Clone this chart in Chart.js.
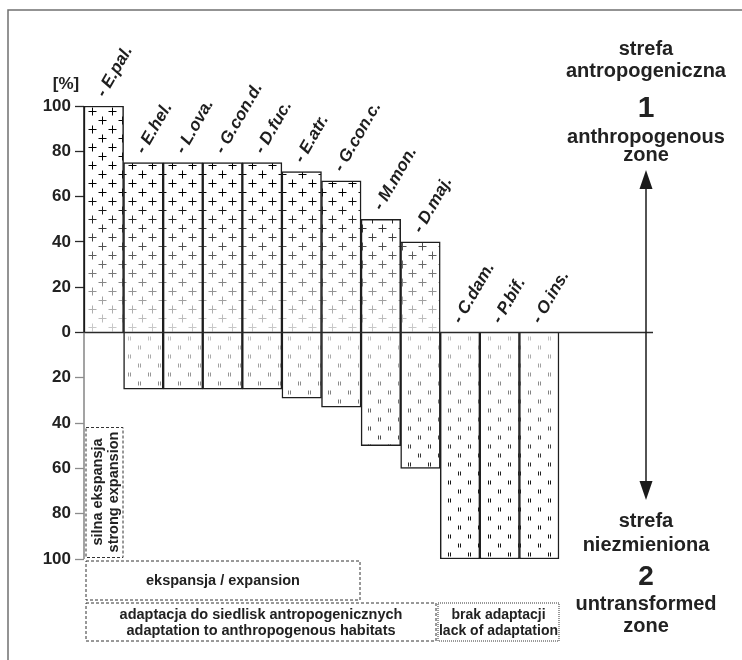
<!DOCTYPE html>
<html><head><meta charset="utf-8">
<script src="https://cdn.jsdelivr.net/npm/chart.js@4.4.1/dist/chart.umd.min.js"></script>
<style>
html,body{margin:0;padding:0;background:#fff;}
#wrap{position:relative;width:742px;height:660px;overflow:hidden;background:#fff;}
#c{position:absolute;left:0;top:0;}
#ov{position:absolute;left:0;top:0;pointer-events:none;}
#ov text{font-family:"Liberation Sans",Arial,sans-serif;font-weight:bold;fill:#222;}
</style></head><body>
<div id="wrap">
<canvas id="c" width="742" height="660"></canvas>
<svg id="ov" width="742" height="660" xmlns="http://www.w3.org/2000/svg">
  <path d="M8 660 L8 10 L742 10" fill="none" stroke="#707070" stroke-width="1.5"/>
  <text x="66" y="89" font-size="17" text-anchor="middle">[%]</text>
  <!-- right side: zone 1 -->
  <text x="646" y="55" font-size="20" text-anchor="middle">strefa</text>
  <text x="646" y="77" font-size="20" text-anchor="middle">antropogeniczna</text>
  <text x="646" y="117" font-size="30" text-anchor="middle">1</text>
  <text x="646" y="143" font-size="20" text-anchor="middle">anthropogenous</text>
  <text x="646" y="161" font-size="20" text-anchor="middle">zone</text>
  <!-- arrow -->
  <line x1="646" y1="186" x2="646" y2="484" stroke="#1a1a1a" stroke-width="1.5"/>
  <polygon points="646,170 639.5,189 652.5,189" fill="#1a1a1a"/>
  <polygon points="646,500 639.5,481 652.5,481" fill="#1a1a1a"/>
  <!-- right side: zone 2 -->
  <text x="646" y="527" font-size="20" text-anchor="middle">strefa</text>
  <text x="646" y="551" font-size="20" text-anchor="middle">niezmieniona</text>
  <text x="646" y="585" font-size="28" text-anchor="middle">2</text>
  <text x="646" y="610" font-size="20" text-anchor="middle">untransformed</text>
  <text x="646" y="632" font-size="20" text-anchor="middle">zone</text>
  <!-- boxes -->
  <rect x="86" y="427.5" width="37" height="130" fill="none" stroke="#333" stroke-width="1" stroke-dasharray="3,2"/>
  <text transform="translate(98.5,492) rotate(-90)" font-size="14.5" text-anchor="middle" dominant-baseline="middle">silna ekspansja</text>
  <text transform="translate(114,492) rotate(-90)" font-size="14.5" text-anchor="middle" dominant-baseline="middle">strong expansion</text>
  <rect x="86" y="561" width="274" height="39" fill="none" stroke="#333" stroke-width="1" stroke-dasharray="3,2"/>
  <text x="223" y="585" font-size="14.5" text-anchor="middle">ekspansja / expansion</text>
  <rect x="86" y="603" width="350" height="38" fill="none" stroke="#333" stroke-width="1" stroke-dasharray="3,2"/>
  <text x="261" y="619" font-size="14.5" text-anchor="middle">adaptacja do siedlisk antropogenicznych</text>
  <text x="261" y="635" font-size="14.5" text-anchor="middle">adaptation to anthropogenous habitats</text>
  <rect x="438" y="603" width="121" height="38" fill="none" stroke="#333" stroke-width="1" stroke-dasharray="1,1"/>
  <text x="498.5" y="619" font-size="14" text-anchor="middle">brak adaptacji</text>
  <text x="498.5" y="635" font-size="14" text-anchor="middle">lack of adaptation</text>
</svg>
</div>
<script>
// ---- data ----
const species = ['- E.pal.', '- E.hel.', '- L.ova.', '- G.con.d.', '- D.fuc.', '- E.atr.', '- G.con.c.', '- M.mon.', '- D.maj.', '- C.dam.', '- P.bif.', '- O.ins.'];
const anthropogenousZone = [100, 75, 75, 75, 75, 71, 67, 50, 40, 0, 0, 0];   // % in zone 1 (up)
const untransformedZone  = [0, 25, 25, 25, 25, 29, 33, 50, 60, 100, 100, 100]; // % in zone 2 (down)
const yTickValues = [-100, -80, -60, -40, -20, 0, 20, 40, 60, 80, 100];

// ---- pattern fill (crosses above 0, double dashes below 0) ----
let patCache = null;
function getPattern(chart) {
  const a = chart.chartArea;
  const y = chart.scales && chart.scales.y;
  if (!a || !y) return '#fff';
  const key = [chart.width, chart.height, a.left, a.top, a.right, a.bottom].join(',');
  if (patCache && patCache.key === key) return patCache.pattern;
  const dpr = chart.currentDevicePixelRatio || 1;
  const cv = document.createElement('canvas');
  cv.width = Math.ceil(chart.width * dpr); cv.height = Math.ceil(chart.height * dpr);
  const g = cv.getContext('2d');
  g.scale(dpr, dpr);
  g.fillStyle = '#fff'; g.fillRect(0, 0, chart.width, chart.height);
  const z = y.getPixelForValue(0), top = y.getPixelForValue(100), bot = y.getPixelForValue(-100);
  g.lineWidth = 1;
  let row = 0;
  for (let yy = z - 6; yy > top - 4; yy -= 9, row++) {
    const v = y.getValueForPixel(yy);
    const c = Math.round(Math.max(0, Math.min(210, 210 * (1 - v / 62))));
    g.strokeStyle = 'rgb(' + c + ',' + c + ',' + c + ')';
    g.beginPath();
    const py = Math.round(yy) + 0.5;
    for (let xx = a.left + 8 + (row % 2) * 10; xx < a.right; xx += 20) {
      const px = Math.round(xx) + 0.5;
      g.moveTo(px - 4, py); g.lineTo(px + 4, py);
      g.moveTo(px, py - 4); g.lineTo(px, py + 4);
    }
    g.stroke();
  }
  row = 0;
  g.lineWidth = 1;
  for (let yy = z + 6; yy < bot; yy += 9, row++) {
    const v = Math.abs(y.getValueForPixel(yy));
    const c = Math.round(Math.max(20, Math.min(200, 200 - 190 * v / 70)));
    g.strokeStyle = 'rgb(' + c + ',' + c + ',' + c + ')';
    g.beginPath();
    for (let xx = a.left + 4 + (row % 2) * 10; xx < a.right; xx += 20) {
      const px = Math.round(xx) + 0.5;
      g.moveTo(px, yy - 2); g.lineTo(px, yy + 2);
      g.moveTo(px + 2, yy - 2); g.lineTo(px + 2, yy + 2);
    }
    g.stroke();
  }
  const pattern = chart.ctx.createPattern(cv, 'no-repeat');
  if (pattern.setTransform) pattern.setTransform(new DOMMatrix([1 / dpr, 0, 0, 1 / dpr, 0, 0]));
  patCache = { key, pattern };
  return pattern;
}

const overlayPlugin = {
  id: 'overlay',
  afterDatasetsDraw(chart) {
    const { ctx, chartArea: a, scales: { x, y } } = chart;
    const z = y.getPixelForValue(0);
    ctx.save();
    // zero line
    ctx.strokeStyle = '#2a2a2a'; ctx.lineWidth = 1.3;
    ctx.beginPath(); ctx.moveTo(a.left, z); ctx.lineTo(a.right, z); ctx.stroke();
    // y axis line: dark above 0, grey below
    ctx.lineWidth = 1.6;
    ctx.strokeStyle = '#8c8c8c';
    ctx.beginPath(); ctx.moveTo(a.left, z); ctx.lineTo(a.left, a.bottom); ctx.stroke();
    ctx.strokeStyle = '#1a1a1a';
    ctx.beginPath(); ctx.moveTo(a.left, a.top); ctx.lineTo(a.left, z); ctx.stroke();
    // rotated species labels
    ctx.font = 'italic bold 17px "Liberation Sans", Arial, sans-serif';
    ctx.fillStyle = '#1e1e1e';
    ctx.textAlign = 'left'; ctx.textBaseline = 'alphabetic';
    species.forEach((s, i) => {
      const px = x.getPixelForValue(i);
      const py = y.getPixelForValue(anthropogenousZone[i]);
      ctx.save();
      ctx.translate(px + 1, py - 8);
      ctx.rotate(-60 * Math.PI / 180);
      ctx.fillText(s, 0, 0);
      ctx.restore();
    });
    ctx.restore();
  }
};

const idx = species.map((_, i) => i);
new Chart(document.getElementById('c'), {
  type: 'bar',
  data: {
    datasets: [
      {
        label: 'strefa antropogeniczna',
        data: idx.map(i => ({ x: i, y: anthropogenousZone[i] })),
        backgroundColor: ctx => getPattern(ctx.chart),
        borderColor: '#1e1e1e', borderWidth: 1.5,
        categoryPercentage: 1, barPercentage: 1
      },
      {
        label: 'strefa niezmieniona',
        data: idx.map(i => ({ x: i, y: -untransformedZone[i] })),
        backgroundColor: ctx => getPattern(ctx.chart),
        borderColor: '#1e1e1e', borderWidth: 1.5,
        categoryPercentage: 1, barPercentage: 1
      }
    ]
  },
  options: {
    responsive: false,
    animation: false,
    events: [],
    layout: { padding: { left: 0, top: 106, right: 89, bottom: 101 } },
    plugins: { legend: { display: false }, tooltip: { enabled: false } },
    scales: {
      x: { type: 'linear', display: false, stacked: true, min: -0.5, max: 13.875, offset: false },
      y: {
        stacked: true, min: -100, max: 100,
        afterFit: s => { s.width = 84; },
        afterBuildTicks: s => { s.ticks = yTickValues.map(v => ({ value: v })); },
        border: { display: false },
        grid: {
          drawOnChartArea: false, drawTicks: true, tickLength: 9, tickWidth: 1.3,
          color: 'rgba(0,0,0,0)',
          tickColor: c => (c.tick && c.tick.value < 0) ? '#8c8c8c' : '#2a2a2a'
        },
        ticks: {
          padding: 4, color: '#222',
          font: { family: '"Liberation Sans", Arial, sans-serif', weight: 'bold', size: 17 },
          callback: v => String(Math.abs(v))
        }
      }
    }
  },
  plugins: [overlayPlugin]
});
</script>
</body></html>
